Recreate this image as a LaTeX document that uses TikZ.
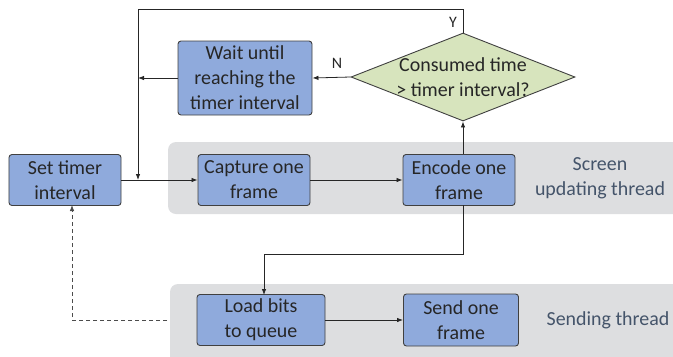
\documentclass[tikz,border=0pt]{standalone}
\usepackage{fontspec}
\setmainfont{Carlito}
\usetikzlibrary{shapes.geometric,arrows.meta}
\definecolor{boxfill}{HTML}{8FAADC}
\definecolor{boxdraw}{HTML}{404040}
\definecolor{diafill}{HTML}{D7E4BD}
\definecolor{band}{HTML}{DDDEE0}
\definecolor{thread}{HTML}{44546A}
\definecolor{txt}{HTML}{262626}
\tikzset{
  procbox/.style={draw=boxdraw, fill=boxfill, line width=0.9bp, rounded corners=3bp,
    minimum width=#1, align=center, inner sep=0pt, text=txt,
    font=\fontsize{20}{25}\selectfont},
  decbox/.style={draw=boxdraw, fill=diafill, line width=0.9bp, shape=diamond, inner sep=0pt,
    minimum width=224bp, minimum height=88bp},
  conn/.style={draw=black!85, line width=0.8bp, -{Latex[length=6bp,width=4.5bp]}},
  plainconn/.style={draw=black!85, line width=0.8bp},
  bandbox/.style={fill=band, rounded corners=8bp},
  threadlbl/.style={text=thread, align=center, font=\fontsize{20}{25}\selectfont},
  yn/.style={text=txt, font=\fontsize{16}{19}\selectfont}
}
\begin{document}
\begin{tikzpicture}[x=1bp,y=-1bp]
\useasboundingbox (0,0) rectangle (673,356);
% bands
\path[bandbox] (168,142) rectangle (690,214);
\path[bandbox] (170,284) rectangle (690,370);
% nodes
\node[procbox=112bp, minimum height=51bp] (set) at (65,180) {Set timer\\interval};
\node[procbox=134bp, minimum height=74bp] (wait) at (245,78) {Wait until\\reaching the\\timer interval};
\node[procbox=112bp, minimum height=51bp] (cap) at (254,180) {Capture one\\frame};
\node[procbox=112bp, minimum height=51bp] (enc) at (459,180) {Encode one\\frame};
\node[decbox] (dia) at (463,77) {};
\node[text=txt, align=center, font=\fontsize{20}{25}\selectfont] (diatxt) at (463,77) {Consumed time\\> timer interval?};
\node[procbox=128bp, minimum height=51bp] (load) at (261,320) {Load bits\\to queue};
\node[procbox=115bp, minimum height=52bp] (send) at (461,320) {Send one\\frame};
\node[threadlbl] (scr) at (600,178) {Screen\\updating thread};
\node[threadlbl] (snd) at (608,320) {Sending thread};
\node[yn] (ylbl) at (453,22) {Y};
\node[yn] (nlbl) at (337,63) {N};
% coordinates
\coordinate (topL) at (138,9);
\coordinate (topR) at (463,9);
\coordinate (joinA) at (138,78);
\coordinate (joinB) at (138,180);
\coordinate (encB) at (463,205);
\coordinate (encT) at (463,154);
\coordinate (bendA) at (463,254);
\coordinate (bendB) at (264,254);
\coordinate (loadT) at (264,295);
\coordinate (dashS) at (167,320);
\coordinate (dashC) at (72,320);
\coordinate (setB) at (72,205);
% connectors
\draw[plainconn] (dia.north) -- (topR) -- (topL) -- (joinA);
\draw[conn] (joinA) -- (joinB);
\draw[conn] (wait.west) -- (joinA);
\draw[conn] (dia.west) -- (wait.east);
\draw[conn] (set.east) -- (cap.west);
\draw[conn] (cap.east) -- (enc.west);
\draw[conn] (encT) -- (dia.south);
\draw[plainconn] (encB) -- (bendA) -- (bendB);
\draw[conn] (bendB) -- (loadT);
\draw[conn] (load.east) -- (send.west);
\draw[conn, dashed, dash pattern=on 4bp off 3bp, draw=black!70] (dashS) -- (dashC) -- (setB);
\end{tikzpicture}
\end{document}
